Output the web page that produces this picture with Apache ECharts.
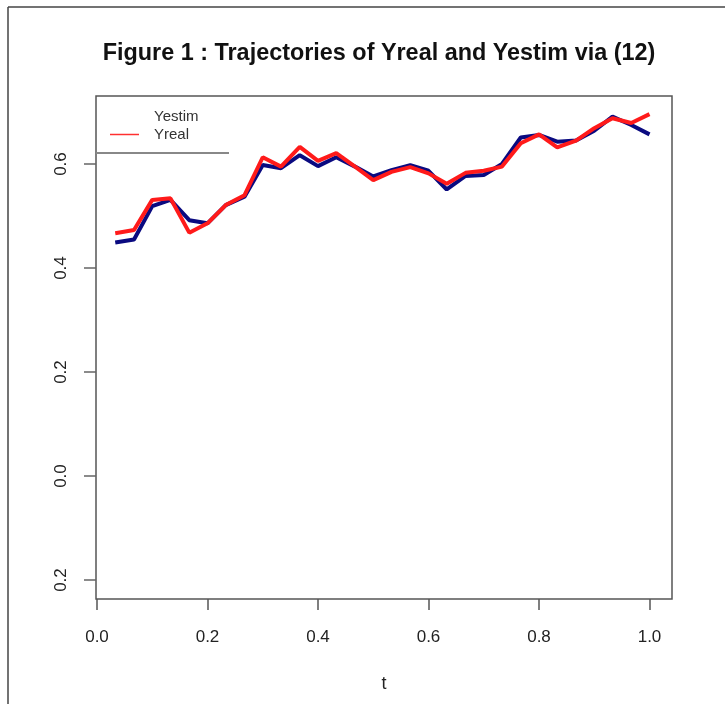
<!DOCTYPE html>
<html>
<head>
<meta charset="utf-8">
<title>Trajectories of Yreal and Yestim</title>
<script src="https://cdn.jsdelivr.net/npm/echarts@6/dist/echarts.min.js"></script>
<style>
  html, body { margin: 0; padding: 0; background: #fff; }
  #chart { width: 725px; height: 704px; }
</style>
</head>
<body>
<div id="chart"></div>
<script>
// time grid t
const tValues = [0.033, 0.067, 0.100, 0.133, 0.167, 0.200, 0.233, 0.267, 0.300, 0.333,
  0.367, 0.400, 0.433, 0.467, 0.500, 0.533, 0.567, 0.600, 0.633, 0.667,
  0.700, 0.733, 0.767, 0.800, 0.833, 0.867, 0.900, 0.933, 0.967, 1.000]

// estimated trajectory (blue)
const yEstim = [0.449, 0.455, 0.519, 0.531, 0.492, 0.486, 0.521, 0.537, 0.598, 0.592,
  0.617, 0.596, 0.613, 0.595, 0.576, 0.588, 0.598, 0.587, 0.551, 0.577,
  0.579, 0.600, 0.651, 0.656, 0.643, 0.645, 0.664, 0.691, 0.675, 0.657]

// real trajectory (red)
const yReal = [0.467, 0.473, 0.531, 0.534, 0.468, 0.486, 0.521, 0.540, 0.613, 0.595,
  0.633, 0.606, 0.621, 0.595, 0.569, 0.585, 0.594, 0.582, 0.562, 0.583,
  0.587, 0.595, 0.640, 0.657, 0.632, 0.645, 0.669, 0.688, 0.679, 0.696]

const xTicks = [0, 0.2, 0.4, 0.6, 0.8, 1.0]
const xTickLabels = ['0.0', '0.2', '0.4', '0.6', '0.8', '1.0']
const yTicks = [-0.2, 0, 0.2, 0.4, 0.6]
// labels as printed on the figure (minus sign not visible)
const yTickLabels = ['0.2', '0.0', '0.2', '0.4', '0.6']

const chart = echarts.init(document.getElementById('chart'))

const pairs = (xs, ys) => xs.map((x, i) => [x, ys[i]])

const option = {
  animation: false,
  backgroundColor: '#fff',
  title: {
    text: 'Figure 1 : Trajectories of Yreal and Yestim via (12)',
    left: 374,
    top: 37,
    textAlign: 'center',
    textStyle: {
      fontFamily: 'Liberation Sans',
      fontWeight: 'bold',
      fontSize: 23.4,
      color: '#111'
    }
  },
  legend: {
    orient: 'vertical',
    left: 109,
    top: 109,
    padding: 0,
    itemWidth: 29,
    itemHeight: 12,
    itemGap: 3,
    selectedMode: false,
    textStyle: {
      fontFamily: 'Liberation Sans',
      fontSize: 15,
      color: '#333',
      padding: [0, 0, 0, 10]
    },
    data: [
      { name: 'Yestim', itemStyle: { opacity: 0 }, lineStyle: { opacity: 0 } },
      { name: 'Yreal', itemStyle: { opacity: 0 }, lineStyle: { width: 1.5, color: '#ff3030' } }
    ]
  },
  grid: {
    show: true,
    left: 96,
    right: 53,
    top: 96,
    bottom: 105,
    borderColor: '#555',
    borderWidth: 1.5
  },
  xAxis: {
    type: 'value',
    min: -0.0018,
    max: 1.0407,
    name: 't',
    nameLocation: 'middle',
    nameGap: 76,
    nameTextStyle: { fontFamily: 'Liberation Sans', fontSize: 18, color: '#222' },
    splitLine: { show: false },
    axisLine: { show: false, onZero: false },
    axisTick: {
      show: true,
      length: 11,
      customValues: xTicks,
      lineStyle: { color: '#555', width: 1.5 }
    },
    axisLabel: {
      margin: 30,
      fontFamily: 'Liberation Sans',
      fontSize: 17,
      color: '#222',
      customValues: xTicks,
      formatter: v => xTickLabels[xTicks.findIndex(t => Math.abs(t - v) < 1e-6)]
    }
  },
  yAxis: {
    type: 'value',
    min: -0.2365,
    max: 0.7308,
    splitLine: { show: false },
    axisLine: { show: false, onZero: false },
    axisTick: {
      show: true,
      length: 12,
      customValues: yTicks,
      lineStyle: { color: '#666', width: 1.5 }
    },
    axisLabel: {
      rotate: 90,
      margin: 26,
      fontFamily: 'Liberation Sans',
      fontSize: 17,
      color: '#222',
      customValues: yTicks,
      formatter: v => yTickLabels[yTicks.findIndex(t => Math.abs(t - v) < 1e-6)]
    }
  },
  graphic: [
    // frame of the figure
    { type: 'line', shape: { x1: 8, y1: 7, x2: 725, y2: 7 }, style: { stroke: '#444', lineWidth: 1.5 } },
    { type: 'line', shape: { x1: 8, y1: 7, x2: 8, y2: 704 }, style: { stroke: '#444', lineWidth: 1.5 } },
    // bottom edge of legend box
    { type: 'line', shape: { x1: 96, y1: 153, x2: 229, y2: 153 }, style: { stroke: '#888', lineWidth: 2 } }
  ],
  series: [
    {
      name: 'Yestim',
      type: 'line',
      data: pairs(tValues, yEstim),
      showSymbol: false,
      lineStyle: { color: '#0a0a80', width: 4 },
      itemStyle: { color: '#0a0a80' }
    },
    {
      name: 'Yreal',
      type: 'line',
      data: pairs(tValues, yReal),
      showSymbol: false,
      lineStyle: { color: '#ff1a1a', width: 4 },
      itemStyle: { color: '#ff1a1a' }
    }
  ]
}

chart.setOption(option)
</script>
</body>
</html>
